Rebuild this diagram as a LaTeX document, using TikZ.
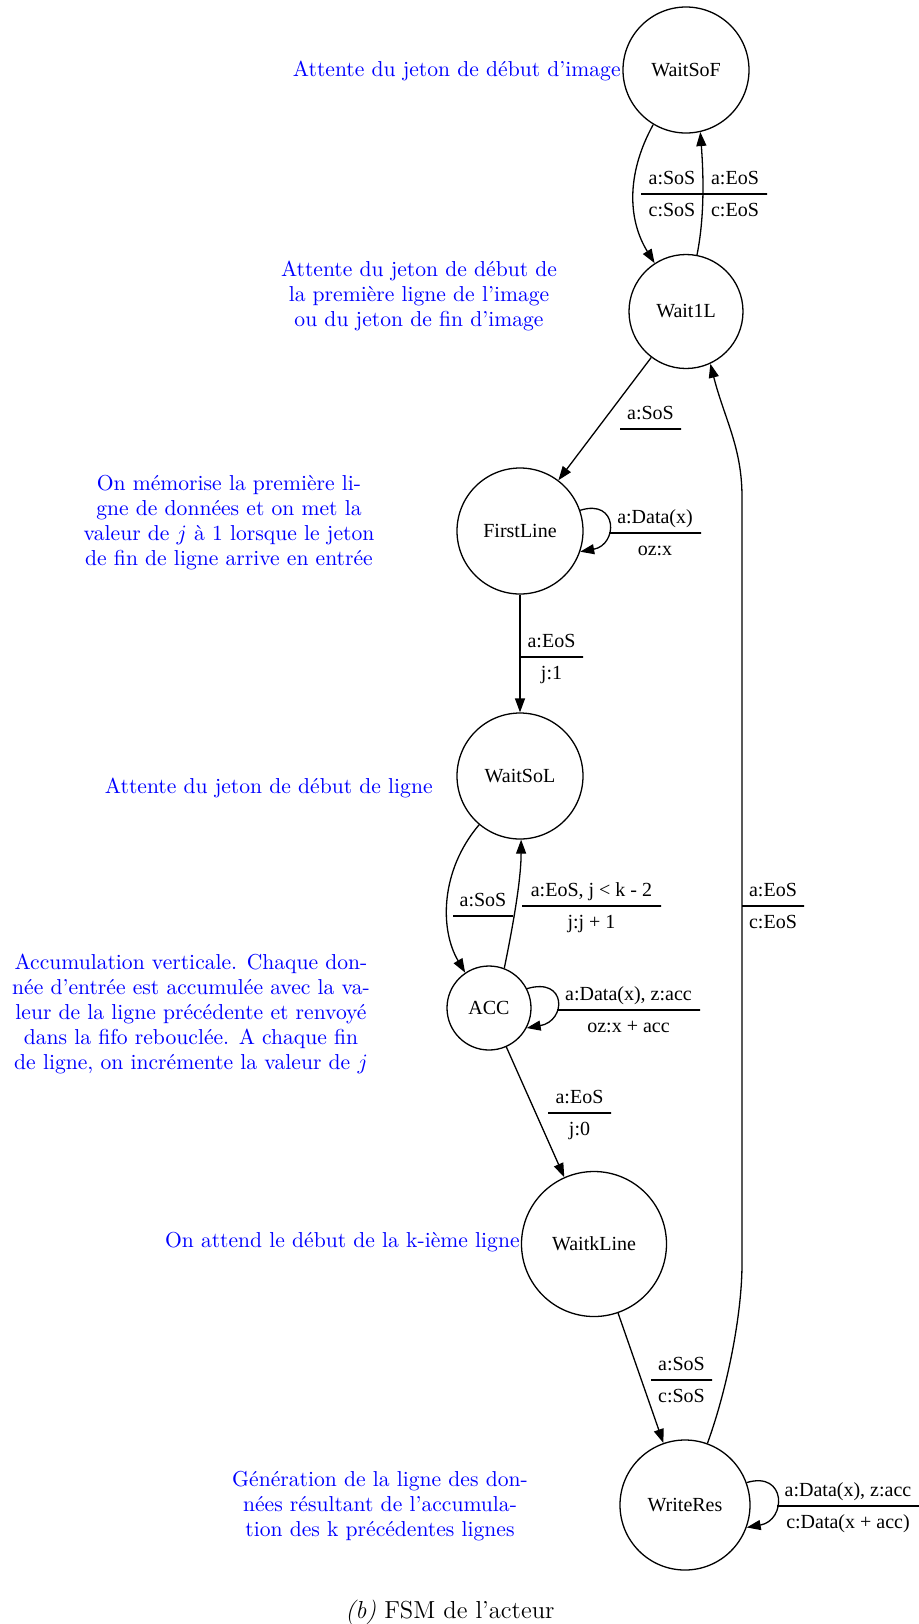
\documentclass[tikz,border=0pt]{standalone}
\usepackage{fontspec}
\newfontfamily\tms{Liberation Serif}
\usetikzlibrary{arrows.meta}
\newcommand\trans[6]{%
  \node[rulebar, minimum width=#4*0.5pt] (#1) at (#2,#3) {};
  \node[elab, anchor=base] (#1t) at ([yshift=4.7pt]#1.center) {#5};
  \node[elab, anchor=base] (#1b) at ([yshift=-11.3pt]#1.center) {#6};}
\begin{document}
\begin{tikzpicture}[x=0.5pt, y=-0.5pt,
  fsmstate/.style={circle, draw, line width=0.65pt, inner sep=0pt, font=\tms\fontsize{10}{12}\selectfont},
  edgearr/.style={draw, line width=0.65pt, -{Triangle[length=7pt,width=5pt]}},
  rulebar/.style={draw, line width=0.65pt, rectangle, inner sep=0pt, outer sep=0pt, minimum height=0pt},
  elab/.style={inner sep=0pt, font=\tms\fontsize{10}{12}\selectfont},
  note/.style={text=blue, inner sep=0pt, align=center, font=\fontsize{10.8}{12.5}\selectfont},
  captxt/.style={inner sep=0pt, font=\fontsize{12.3}{14}\selectfont}]
\useasboundingbox (0,0) rectangle (919,1624);
% states
\node[fsmstate, minimum size=63pt] (WaitSoF) at (686,70) {WaitSoF};
\node[fsmstate, minimum size=57pt] (Wait1L) at (686,311.5) {Wait1L};
\node[fsmstate, minimum size=63pt] (FirstLine) at (520,531) {FirstLine};
\node[fsmstate, minimum size=63pt] (WaitSoL) at (520,776) {WaitSoL};
\node[fsmstate, minimum size=42pt] (ACC) at (489,1008) {ACC};
\node[fsmstate, minimum size=72.5pt] (WaitkLine) at (594,1244) {WaitkLine};
\node[fsmstate, minimum size=65pt] (WriteRes) at (685,1505) {WriteRes};
% transitions
\draw[edgearr] (WaitSoF.239) .. controls +(-28,51) and +(-26,-42) .. (Wait1L.123);
\draw[edgearr] (Wait1L.79) .. controls +(8,-40) and +(3,40) .. (WaitSoF.283);
\draw[edgearr] (Wait1L) -- (FirstLine);
\draw[edgearr] (FirstLine.19) .. controls +(38,-12) and +(38,-7) .. (FirstLine.-19);
\draw[edgearr] (FirstLine) -- (WaitSoL);
\draw[edgearr] (WaitSoL.230) .. controls +(-39,46) and +(-25.5,-43) .. (ACC.124);
\draw[edgearr] (ACC.69) .. controls +(8,-39) and +(0,41) .. (WaitSoL.271);
\draw[edgearr] (ACC.27) .. controls +(40,-12) and +(40,-7) .. (ACC.-28);
\draw[edgearr] (ACC) -- (WaitkLine);
\draw[edgearr] (WaitkLine) -- (WriteRes);
\coordinate (lb) at (742,1264);
\coordinate (lt) at (742,497);
\draw[edgearr] (WriteRes.70) .. controls +(20,-55) and +(0,50) .. (lb) -- (lt) .. controls +(0,-50) and +(14,55) .. (Wait1L.295);
\draw[edgearr] (WriteRes.20) .. controls +(40,-12) and +(40,-7) .. (WriteRes.-20);
% transition labels
\trans{L1}{672}{194}{62}{a:SoS}{c:SoS}
\trans{L2}{735}{194}{64}{a:EoS}{c:EoS}
\trans{L3}{650.5}{429}{61}{a:SoS}{}
\trans{L4}{655}{533}{92}{a:Data(x)}{oz:x}
\trans{L5}{551.5}{657}{63}{a:EoS}{j:1}
\trans{L6}{483}{916}{60}{a:SoS}{}
\trans{L7}{591.5}{906}{139}{a:EoS, j < k - 2}{j:j + 1}
\trans{L8}{628.5}{1010}{143}{a:Data(x), z:acc}{oz:x + acc}
\trans{L9}{579.5}{1113}{63}{a:EoS}{j:0}
\trans{L10}{681.5}{1380}{61}{a:SoS}{c:SoS}
\trans{L11}{773}{906}{62}{a:EoS}{c:EoS}
\trans{L12}{848}{1506}{142}{a:Data(x), z:acc}{c:Data(x + acc)}
% notes
\node[note, anchor=base east] (n1) at (621,76) {Attente du jeton de début d’image};
\node[note] (n2) at (419,296) {Attente du jeton de début de\\la première ligne de l’image\\ou du jeton de fin d’image};
\node[note] (n3) at (229,523) {On mémorise la première li-\\gne de données et on met la\\valeur de $j$ à \oldstylenums{1} lorsque le jeton\\de fin de ligne arrive en entrée};
\node[note, anchor=base east] (n4) at (433,793) {Attente du jeton de début de ligne};
\node[note] (n5) at (191,1014) {Accumulation verticale. Chaque don-\\née d’entrée est accumulée avec la va-\\leur de la ligne précédente et renvoyé\\dans la fifo rebouclée. A chaque fin\\de ligne, on incrémente la valeur de $j$};
\node[note, anchor=base east] (n6) at (520,1247) {On attend le début de la k-ième ligne};
\node[note] (n7) at (380,1506) {Génération de la ligne des don-\\nées résultant de l’accumula-\\tion des k précédentes lignes};
\node[captxt, anchor=base] (cap) at (450,1618) {\textit{(b)} FSM de l’acteur};
\end{tikzpicture}
\end{document}
